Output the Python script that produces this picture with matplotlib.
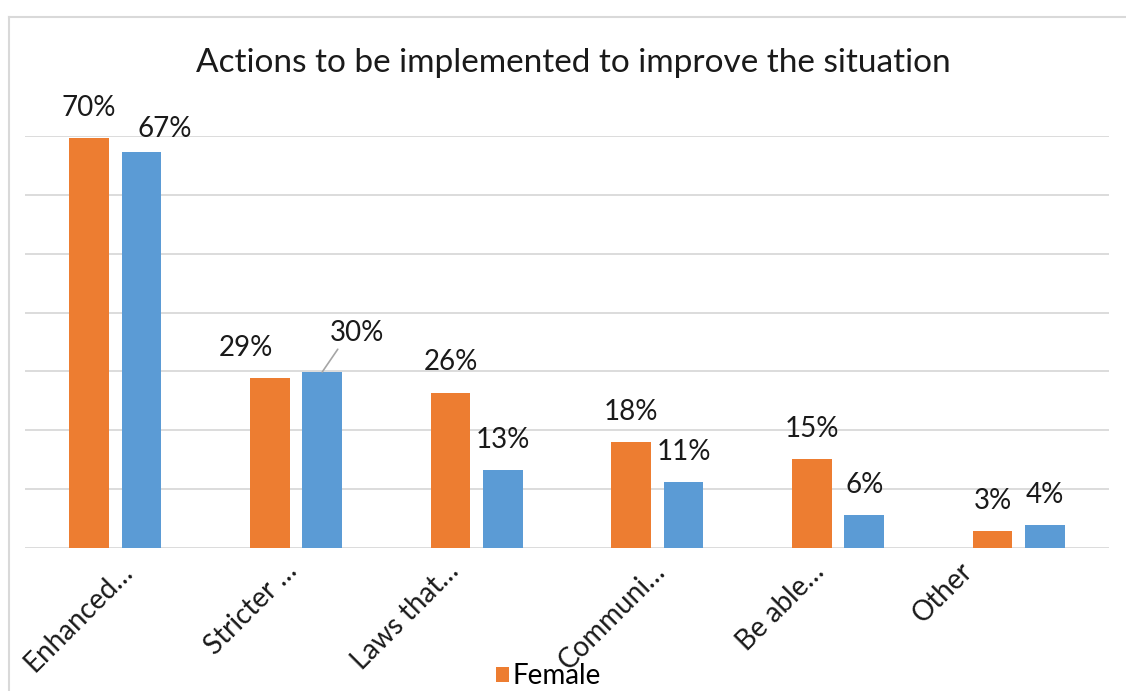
import matplotlib
matplotlib.use("Agg")
import matplotlib.pyplot as plt
from matplotlib.lines import Line2D
from matplotlib.transforms import ScaledTranslation

# data (percent)
categories = ["Enhanced…", "Stricter …", "Laws that…", "Communi…", "Be able…", "Other"]
female = [69.6, 28.8, 26.4, 18.0, 15.1, 2.9]
male = [67.2, 29.9, 13.2, 11.2, 5.6, 3.9]
series_names = ["Female", "Male"]

ORANGE = "#ED7D31"
BLUE = "#5B9BD5"
GRID = "#D9D9D9"
TEXT = "#1a1a1a"

plt.rcParams['font.family'] = ['Lato', 'DejaVu Sans']

fig = plt.figure(figsize=(11.26, 6.91), dpi=100)
ax = fig.add_axes([25 / 1126, 1 - 548 / 691, 1084 / 1126, 412 / 691])

x = list(range(len(categories)))
w = 0.22
off = 0.145
bars_f = ax.bar([i - off for i in x], female, w, color=ORANGE, label=series_names[0], zorder=3)
bars_m = ax.bar([i + off for i in x], male, w, color=BLUE, label=series_names[1], zorder=3)

ax.set_xlim(-0.5, len(categories) - 0.5)
ax.set_ylim(0, 70)
ax.set_yticks(range(0, 71, 10))
ax.yaxis.grid(True, color=GRID, linewidth=1.3, zorder=0)
ax.tick_params(axis='y', left=False, labelleft=False)
ax.tick_params(axis='x', bottom=False, pad=6)
for s in ax.spines.values():
    s.set_visible(False)

ax.set_xticks(x)
ax.set_xticklabels(categories, fontsize=20, color=TEXT)
# the original's rotated labels don't sit exactly on the ticks, shift them (pixels)
label_shift = [13, -3, -22, 4, -18, -50]
for lab, sh in zip(ax.get_xticklabels(), label_shift):
    lab.set_rotation(45)
    lab.set_ha('right')
    lab.set_va('center')
    lab.set_rotation_mode('anchor')
    lab.set_transform(lab.get_transform() + ScaledTranslation(sh / 100, -6 / 100, fig.dpi_scale_trans))

# data labels, some of them were dragged by hand in the original
nudge_f = {1: (-17, 0)}
nudge_m = {0: (17, -5)}
fs = 20
for i, b in enumerate(bars_f):
    dx, dy = nudge_f.get(i, (0, 0))
    ax.annotate(f"{female[i]:.0f}%", (b.get_x() + b.get_width() / 2, b.get_height()),
                xytext=(dx, 16 + dy), textcoords='offset points', ha='center',
                va='baseline', fontsize=fs, color=TEXT, annotation_clip=False)
for i, b in enumerate(bars_m):
    cx = b.get_x() + b.get_width() / 2
    if i == 1:
        # label pulled away with a leader line
        ax.annotate(f"{male[i]:.0f}%", (cx, b.get_height()),
                    xytext=(25, 22), textcoords='offset points', ha='center',
                    va='baseline', fontsize=fs, color=TEXT, annotation_clip=False,
                    arrowprops=dict(arrowstyle='-', color='#a6a6a6', lw=1.2,
                                    shrinkA=0, shrinkB=0, relpos=(0.15, -0.1)))
        continue
    dx, dy = nudge_m.get(i, (0, 0))
    ax.annotate(f"{male[i]:.0f}%", (cx, b.get_height()),
                xytext=(dx, 16 + dy), textcoords='offset points', ha='center',
                va='baseline', fontsize=fs, color=TEXT, annotation_clip=False)

fig.text(573 / 1126, 1 - 63 / 691, "Actions to be implemented to improve the situation",
         ha='center', va='center', fontsize=24, color=TEXT)

# legend: only the first entry survives in the original crop
fig.legend(handles=[bars_f], labels=[series_names[0]], loc='center left',
           bbox_to_anchor=(496 / 1126, 1 - 676 / 691), frameon=False, fontsize=20,
           handlelength=0.45, handleheight=0.45, handletextpad=0.15,
           borderpad=0, borderaxespad=0)

# chart area border
fig.add_artist(Line2D([9 / 1126, 9 / 1126], [0, 1 - 17 / 691], color=GRID, lw=1.5,
                      transform=fig.transFigure))
fig.add_artist(Line2D([9 / 1126, 1], [1 - 17 / 691, 1 - 17 / 691], color=GRID, lw=1.5,
                      transform=fig.transFigure))

fig.savefig("out.png", dpi=100, facecolor='white')
